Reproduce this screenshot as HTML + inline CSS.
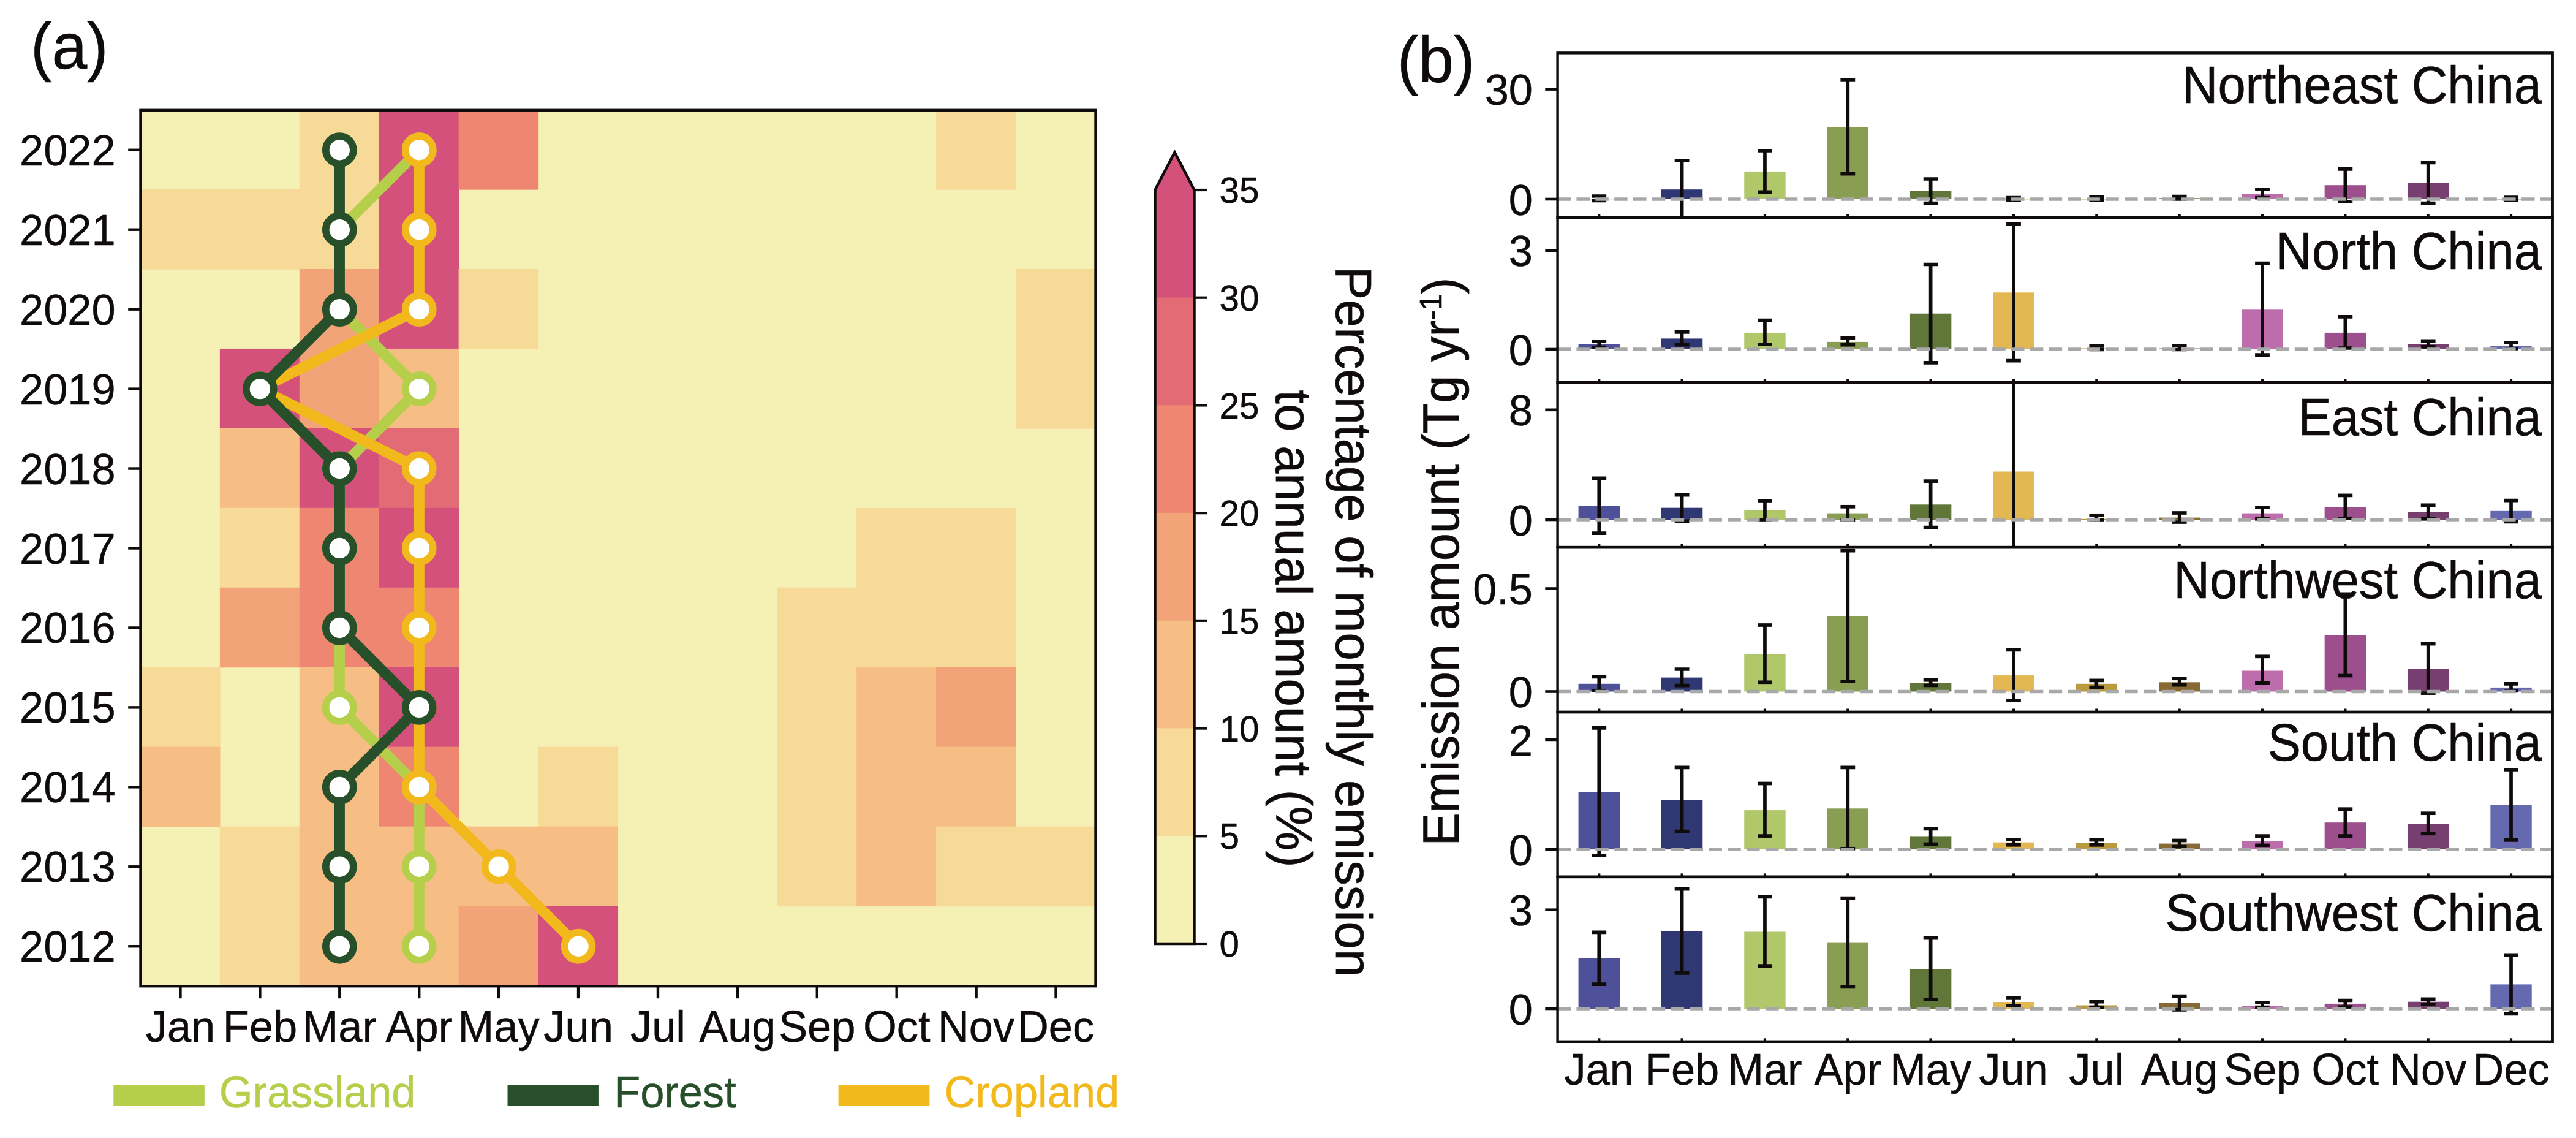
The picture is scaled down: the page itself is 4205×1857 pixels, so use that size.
<!DOCTYPE html>
<html><head><meta charset="utf-8"><style>
html,body{margin:0;padding:0;background:#fff;width:4205px;height:1857px;overflow:hidden}
svg{display:block}
text{font-family:"Liberation Sans", sans-serif}
</style></head><body>
<svg width="4205" height="1857" viewBox="0 0 4205 1857">
<defs><clipPath id="cp0"><rect x="2542.6" y="86.40" width="1624.10" height="268.90"/></clipPath><clipPath id="cp1"><rect x="2542.6" y="355.30" width="1624.10" height="268.90"/></clipPath><clipPath id="cp2"><rect x="2542.6" y="624.20" width="1624.10" height="268.90"/></clipPath><clipPath id="cp3"><rect x="2542.6" y="893.10" width="1624.10" height="268.90"/></clipPath><clipPath id="cp4"><rect x="2542.6" y="1162.00" width="1624.10" height="268.90"/></clipPath><clipPath id="cp5"><rect x="2542.6" y="1430.90" width="1624.10" height="268.90"/></clipPath></defs>
<rect width="4205" height="1857" fill="#fff"/>
<rect x="229.5" y="179.8" width="1559.00" height="1429.40" fill="#F5F0B4"/>
<rect x="488.78" y="179.10" width="130.52" height="130.55" fill="#F7D998"/>
<rect x="618.70" y="179.10" width="130.52" height="130.55" fill="#D4517C"/>
<rect x="748.62" y="179.10" width="130.52" height="130.55" fill="#EE8672"/>
<rect x="1528.12" y="179.10" width="130.52" height="130.55" fill="#F7D998"/>
<rect x="228.95" y="309.05" width="130.52" height="130.55" fill="#F7D998"/>
<rect x="358.87" y="309.05" width="130.52" height="130.55" fill="#F7D998"/>
<rect x="488.78" y="309.05" width="130.52" height="130.55" fill="#F7D998"/>
<rect x="618.70" y="309.05" width="130.52" height="130.55" fill="#D4517C"/>
<rect x="488.78" y="438.99" width="130.52" height="130.55" fill="#F2A377"/>
<rect x="618.70" y="438.99" width="130.52" height="130.55" fill="#D4517C"/>
<rect x="748.62" y="438.99" width="130.52" height="130.55" fill="#F7D998"/>
<rect x="1658.03" y="438.99" width="130.52" height="130.55" fill="#F7D998"/>
<rect x="358.87" y="568.94" width="130.52" height="130.55" fill="#D4517C"/>
<rect x="488.78" y="568.94" width="130.52" height="130.55" fill="#F2A377"/>
<rect x="618.70" y="568.94" width="130.52" height="130.55" fill="#F6BE85"/>
<rect x="1658.03" y="568.94" width="130.52" height="130.55" fill="#F7D998"/>
<rect x="358.87" y="698.88" width="130.52" height="130.55" fill="#F6BE85"/>
<rect x="488.78" y="698.88" width="130.52" height="130.55" fill="#D4517C"/>
<rect x="618.70" y="698.88" width="130.52" height="130.55" fill="#E26B76"/>
<rect x="358.87" y="828.83" width="130.52" height="130.55" fill="#F7D998"/>
<rect x="488.78" y="828.83" width="130.52" height="130.55" fill="#EE8672"/>
<rect x="618.70" y="828.83" width="130.52" height="130.55" fill="#D4517C"/>
<rect x="1398.20" y="828.83" width="130.52" height="130.55" fill="#F7D998"/>
<rect x="1528.12" y="828.83" width="130.52" height="130.55" fill="#F7D998"/>
<rect x="358.87" y="958.77" width="130.52" height="130.55" fill="#F2A377"/>
<rect x="488.78" y="958.77" width="130.52" height="130.55" fill="#EE8672"/>
<rect x="618.70" y="958.77" width="130.52" height="130.55" fill="#EE8672"/>
<rect x="1268.28" y="958.77" width="130.52" height="130.55" fill="#F7D998"/>
<rect x="1398.20" y="958.77" width="130.52" height="130.55" fill="#F7D998"/>
<rect x="1528.12" y="958.77" width="130.52" height="130.55" fill="#F7D998"/>
<rect x="228.95" y="1088.72" width="130.52" height="130.55" fill="#F7D998"/>
<rect x="488.78" y="1088.72" width="130.52" height="130.55" fill="#F6BE85"/>
<rect x="618.70" y="1088.72" width="130.52" height="130.55" fill="#D4517C"/>
<rect x="1268.28" y="1088.72" width="130.52" height="130.55" fill="#F7D998"/>
<rect x="1398.20" y="1088.72" width="130.52" height="130.55" fill="#F6BE85"/>
<rect x="1528.12" y="1088.72" width="130.52" height="130.55" fill="#F2A377"/>
<rect x="228.95" y="1218.66" width="130.52" height="130.55" fill="#F6BE85"/>
<rect x="488.78" y="1218.66" width="130.52" height="130.55" fill="#F6BE85"/>
<rect x="618.70" y="1218.66" width="130.52" height="130.55" fill="#EE8672"/>
<rect x="878.53" y="1218.66" width="130.52" height="130.55" fill="#F7D998"/>
<rect x="1268.28" y="1218.66" width="130.52" height="130.55" fill="#F7D998"/>
<rect x="1398.20" y="1218.66" width="130.52" height="130.55" fill="#F6BE85"/>
<rect x="1528.12" y="1218.66" width="130.52" height="130.55" fill="#F6BE85"/>
<rect x="358.87" y="1348.61" width="130.52" height="130.55" fill="#F7D998"/>
<rect x="488.78" y="1348.61" width="130.52" height="130.55" fill="#F6BE85"/>
<rect x="618.70" y="1348.61" width="130.52" height="130.55" fill="#F6BE85"/>
<rect x="748.62" y="1348.61" width="130.52" height="130.55" fill="#F6BE85"/>
<rect x="878.53" y="1348.61" width="130.52" height="130.55" fill="#F6BE85"/>
<rect x="1268.28" y="1348.61" width="130.52" height="130.55" fill="#F7D998"/>
<rect x="1398.20" y="1348.61" width="130.52" height="130.55" fill="#F6BE85"/>
<rect x="1528.12" y="1348.61" width="130.52" height="130.55" fill="#F7D998"/>
<rect x="1658.03" y="1348.61" width="130.52" height="130.55" fill="#F7D998"/>
<rect x="358.87" y="1478.55" width="130.52" height="130.55" fill="#F7D998"/>
<rect x="488.78" y="1478.55" width="130.52" height="130.55" fill="#F6BE85"/>
<rect x="618.70" y="1478.55" width="130.52" height="130.55" fill="#F6BE85"/>
<rect x="748.62" y="1478.55" width="130.52" height="130.55" fill="#F2A377"/>
<rect x="878.53" y="1478.55" width="130.52" height="130.55" fill="#D4517C"/>
<polyline points="684.21,244.77 554.29,374.72 554.29,504.66 684.21,634.61 554.29,764.55 554.29,894.50 554.29,1024.45 554.29,1154.39 684.21,1284.34 684.21,1414.28 684.21,1544.23" fill="none" stroke="#B5CF4A" stroke-width="17.2" stroke-linejoin="round" stroke-linecap="butt"/>
<circle cx="684.21" cy="244.77" r="22.55" fill="#fff" stroke="#B5CF4A" stroke-width="11.7"/>
<circle cx="554.29" cy="374.72" r="22.55" fill="#fff" stroke="#B5CF4A" stroke-width="11.7"/>
<circle cx="554.29" cy="504.66" r="22.55" fill="#fff" stroke="#B5CF4A" stroke-width="11.7"/>
<circle cx="684.21" cy="634.61" r="22.55" fill="#fff" stroke="#B5CF4A" stroke-width="11.7"/>
<circle cx="554.29" cy="764.55" r="22.55" fill="#fff" stroke="#B5CF4A" stroke-width="11.7"/>
<circle cx="554.29" cy="894.50" r="22.55" fill="#fff" stroke="#B5CF4A" stroke-width="11.7"/>
<circle cx="554.29" cy="1024.45" r="22.55" fill="#fff" stroke="#B5CF4A" stroke-width="11.7"/>
<circle cx="554.29" cy="1154.39" r="22.55" fill="#fff" stroke="#B5CF4A" stroke-width="11.7"/>
<circle cx="684.21" cy="1284.34" r="22.55" fill="#fff" stroke="#B5CF4A" stroke-width="11.7"/>
<circle cx="684.21" cy="1414.28" r="22.55" fill="#fff" stroke="#B5CF4A" stroke-width="11.7"/>
<circle cx="684.21" cy="1544.23" r="22.55" fill="#fff" stroke="#B5CF4A" stroke-width="11.7"/>
<polyline points="684.21,244.77 684.21,374.72 684.21,504.66 424.38,634.61 684.21,764.55 684.21,894.50 684.21,1024.45 684.21,1154.39 684.21,1284.34 814.12,1414.28 944.04,1544.23" fill="none" stroke="#F2B91C" stroke-width="17.2" stroke-linejoin="round" stroke-linecap="butt"/>
<circle cx="684.21" cy="244.77" r="22.55" fill="#fff" stroke="#F2B91C" stroke-width="11.7"/>
<circle cx="684.21" cy="374.72" r="22.55" fill="#fff" stroke="#F2B91C" stroke-width="11.7"/>
<circle cx="684.21" cy="504.66" r="22.55" fill="#fff" stroke="#F2B91C" stroke-width="11.7"/>
<circle cx="424.38" cy="634.61" r="22.55" fill="#fff" stroke="#F2B91C" stroke-width="11.7"/>
<circle cx="684.21" cy="764.55" r="22.55" fill="#fff" stroke="#F2B91C" stroke-width="11.7"/>
<circle cx="684.21" cy="894.50" r="22.55" fill="#fff" stroke="#F2B91C" stroke-width="11.7"/>
<circle cx="684.21" cy="1024.45" r="22.55" fill="#fff" stroke="#F2B91C" stroke-width="11.7"/>
<circle cx="684.21" cy="1154.39" r="22.55" fill="#fff" stroke="#F2B91C" stroke-width="11.7"/>
<circle cx="684.21" cy="1284.34" r="22.55" fill="#fff" stroke="#F2B91C" stroke-width="11.7"/>
<circle cx="814.12" cy="1414.28" r="22.55" fill="#fff" stroke="#F2B91C" stroke-width="11.7"/>
<circle cx="944.04" cy="1544.23" r="22.55" fill="#fff" stroke="#F2B91C" stroke-width="11.7"/>
<polyline points="554.29,244.77 554.29,374.72 554.29,504.66 424.38,634.61 554.29,764.55 554.29,894.50 554.29,1024.45 684.21,1154.39 554.29,1284.34 554.29,1414.28 554.29,1544.23" fill="none" stroke="#27502A" stroke-width="17.2" stroke-linejoin="round" stroke-linecap="butt"/>
<circle cx="554.29" cy="244.77" r="22.55" fill="#fff" stroke="#27502A" stroke-width="11.7"/>
<circle cx="554.29" cy="374.72" r="22.55" fill="#fff" stroke="#27502A" stroke-width="11.7"/>
<circle cx="554.29" cy="504.66" r="22.55" fill="#fff" stroke="#27502A" stroke-width="11.7"/>
<circle cx="424.38" cy="634.61" r="22.55" fill="#fff" stroke="#27502A" stroke-width="11.7"/>
<circle cx="554.29" cy="764.55" r="22.55" fill="#fff" stroke="#27502A" stroke-width="11.7"/>
<circle cx="554.29" cy="894.50" r="22.55" fill="#fff" stroke="#27502A" stroke-width="11.7"/>
<circle cx="554.29" cy="1024.45" r="22.55" fill="#fff" stroke="#27502A" stroke-width="11.7"/>
<circle cx="684.21" cy="1154.39" r="22.55" fill="#fff" stroke="#27502A" stroke-width="11.7"/>
<circle cx="554.29" cy="1284.34" r="22.55" fill="#fff" stroke="#27502A" stroke-width="11.7"/>
<circle cx="554.29" cy="1414.28" r="22.55" fill="#fff" stroke="#27502A" stroke-width="11.7"/>
<circle cx="554.29" cy="1544.23" r="22.55" fill="#fff" stroke="#27502A" stroke-width="11.7"/>
<rect x="229.5" y="179.8" width="1559.00" height="1429.40" fill="none" stroke="#0e0b0a" stroke-width="4.4"/>
<line x1="209.20" y1="244.77" x2="229.5" y2="244.77" stroke="#0e0b0a" stroke-width="4.4"/>
<text transform="translate(188.60,269.77)" font-size="70.4" text-anchor="end" fill="#0e0b0a" stroke="#0e0b0a" stroke-width="0.5">2022</text>
<line x1="209.20" y1="374.72" x2="229.5" y2="374.72" stroke="#0e0b0a" stroke-width="4.4"/>
<text transform="translate(188.60,399.72)" font-size="70.4" text-anchor="end" fill="#0e0b0a" stroke="#0e0b0a" stroke-width="0.5">2021</text>
<line x1="209.20" y1="504.66" x2="229.5" y2="504.66" stroke="#0e0b0a" stroke-width="4.4"/>
<text transform="translate(188.60,529.66)" font-size="70.4" text-anchor="end" fill="#0e0b0a" stroke="#0e0b0a" stroke-width="0.5">2020</text>
<line x1="209.20" y1="634.61" x2="229.5" y2="634.61" stroke="#0e0b0a" stroke-width="4.4"/>
<text transform="translate(188.60,659.61)" font-size="70.4" text-anchor="end" fill="#0e0b0a" stroke="#0e0b0a" stroke-width="0.5">2019</text>
<line x1="209.20" y1="764.55" x2="229.5" y2="764.55" stroke="#0e0b0a" stroke-width="4.4"/>
<text transform="translate(188.60,789.55)" font-size="70.4" text-anchor="end" fill="#0e0b0a" stroke="#0e0b0a" stroke-width="0.5">2018</text>
<line x1="209.20" y1="894.50" x2="229.5" y2="894.50" stroke="#0e0b0a" stroke-width="4.4"/>
<text transform="translate(188.60,919.50)" font-size="70.4" text-anchor="end" fill="#0e0b0a" stroke="#0e0b0a" stroke-width="0.5">2017</text>
<line x1="209.20" y1="1024.45" x2="229.5" y2="1024.45" stroke="#0e0b0a" stroke-width="4.4"/>
<text transform="translate(188.60,1049.45)" font-size="70.4" text-anchor="end" fill="#0e0b0a" stroke="#0e0b0a" stroke-width="0.5">2016</text>
<line x1="209.20" y1="1154.39" x2="229.5" y2="1154.39" stroke="#0e0b0a" stroke-width="4.4"/>
<text transform="translate(188.60,1179.39)" font-size="70.4" text-anchor="end" fill="#0e0b0a" stroke="#0e0b0a" stroke-width="0.5">2015</text>
<line x1="209.20" y1="1284.34" x2="229.5" y2="1284.34" stroke="#0e0b0a" stroke-width="4.4"/>
<text transform="translate(188.60,1309.34)" font-size="70.4" text-anchor="end" fill="#0e0b0a" stroke="#0e0b0a" stroke-width="0.5">2014</text>
<line x1="209.20" y1="1414.28" x2="229.5" y2="1414.28" stroke="#0e0b0a" stroke-width="4.4"/>
<text transform="translate(188.60,1439.28)" font-size="70.4" text-anchor="end" fill="#0e0b0a" stroke="#0e0b0a" stroke-width="0.5">2013</text>
<line x1="209.20" y1="1544.23" x2="229.5" y2="1544.23" stroke="#0e0b0a" stroke-width="4.4"/>
<text transform="translate(188.60,1569.23)" font-size="70.4" text-anchor="end" fill="#0e0b0a" stroke="#0e0b0a" stroke-width="0.5">2012</text>
<line x1="294.46" y1="1609.2" x2="294.46" y2="1629.20" stroke="#0e0b0a" stroke-width="4.4"/>
<text transform="translate(294.46,1700.00) scale(1,1.03)" font-size="70.4" text-anchor="middle" fill="#0e0b0a" stroke="#0e0b0a" stroke-width="0.5">Jan</text>
<line x1="424.38" y1="1609.2" x2="424.38" y2="1629.20" stroke="#0e0b0a" stroke-width="4.4"/>
<text transform="translate(424.38,1700.00) scale(1,1.03)" font-size="70.4" text-anchor="middle" fill="#0e0b0a" stroke="#0e0b0a" stroke-width="0.5">Feb</text>
<line x1="554.29" y1="1609.2" x2="554.29" y2="1629.20" stroke="#0e0b0a" stroke-width="4.4"/>
<text transform="translate(554.29,1700.00) scale(1,1.03)" font-size="70.4" text-anchor="middle" fill="#0e0b0a" stroke="#0e0b0a" stroke-width="0.5">Mar</text>
<line x1="684.21" y1="1609.2" x2="684.21" y2="1629.20" stroke="#0e0b0a" stroke-width="4.4"/>
<text transform="translate(684.21,1700.00) scale(1,1.03)" font-size="70.4" text-anchor="middle" fill="#0e0b0a" stroke="#0e0b0a" stroke-width="0.5">Apr</text>
<line x1="814.12" y1="1609.2" x2="814.12" y2="1629.20" stroke="#0e0b0a" stroke-width="4.4"/>
<text transform="translate(814.12,1700.00) scale(1,1.03)" font-size="70.4" text-anchor="middle" fill="#0e0b0a" stroke="#0e0b0a" stroke-width="0.5">May</text>
<line x1="944.04" y1="1609.2" x2="944.04" y2="1629.20" stroke="#0e0b0a" stroke-width="4.4"/>
<text transform="translate(944.04,1700.00) scale(1,1.03)" font-size="70.4" text-anchor="middle" fill="#0e0b0a" stroke="#0e0b0a" stroke-width="0.5">Jun</text>
<line x1="1073.96" y1="1609.2" x2="1073.96" y2="1629.20" stroke="#0e0b0a" stroke-width="4.4"/>
<text transform="translate(1073.96,1700.00) scale(1,1.03)" font-size="70.4" text-anchor="middle" fill="#0e0b0a" stroke="#0e0b0a" stroke-width="0.5">Jul</text>
<line x1="1203.88" y1="1609.2" x2="1203.88" y2="1629.20" stroke="#0e0b0a" stroke-width="4.4"/>
<text transform="translate(1203.88,1700.00) scale(1,1.03)" font-size="70.4" text-anchor="middle" fill="#0e0b0a" stroke="#0e0b0a" stroke-width="0.5">Aug</text>
<line x1="1333.79" y1="1609.2" x2="1333.79" y2="1629.20" stroke="#0e0b0a" stroke-width="4.4"/>
<text transform="translate(1333.79,1700.00) scale(1,1.03)" font-size="70.4" text-anchor="middle" fill="#0e0b0a" stroke="#0e0b0a" stroke-width="0.5">Sep</text>
<line x1="1463.71" y1="1609.2" x2="1463.71" y2="1629.20" stroke="#0e0b0a" stroke-width="4.4"/>
<text transform="translate(1463.71,1700.00) scale(1,1.03)" font-size="70.4" text-anchor="middle" fill="#0e0b0a" stroke="#0e0b0a" stroke-width="0.5">Oct</text>
<line x1="1593.62" y1="1609.2" x2="1593.62" y2="1629.20" stroke="#0e0b0a" stroke-width="4.4"/>
<text transform="translate(1593.62,1700.00) scale(1,1.03)" font-size="70.4" text-anchor="middle" fill="#0e0b0a" stroke="#0e0b0a" stroke-width="0.5">Nov</text>
<line x1="1723.54" y1="1609.2" x2="1723.54" y2="1629.20" stroke="#0e0b0a" stroke-width="4.4"/>
<text transform="translate(1723.54,1700.00) scale(1,1.03)" font-size="70.4" text-anchor="middle" fill="#0e0b0a" stroke="#0e0b0a" stroke-width="0.5">Dec</text>
<text transform="translate(49.90,112.40) scale(1,1.02)" font-size="103.7" text-anchor="start" fill="#0e0b0a" stroke="#0e0b0a" stroke-width="0.65">(a)</text>
<rect x="1885.5" y="1363.49" width="64.0" height="176.31" fill="#F5F0B4"/>
<rect x="1885.5" y="1187.77" width="64.0" height="176.31" fill="#F7D998"/>
<rect x="1885.5" y="1012.06" width="64.0" height="176.31" fill="#F6BE85"/>
<rect x="1885.5" y="836.34" width="64.0" height="176.31" fill="#F2A377"/>
<rect x="1885.5" y="660.63" width="64.0" height="176.31" fill="#EE8672"/>
<rect x="1885.5" y="484.91" width="64.0" height="176.31" fill="#E26B76"/>
<rect x="1885.5" y="309.20" width="64.0" height="176.31" fill="#D4517C"/>
<polygon points="1885.5,310.5 1917.5,248.5 1949.5,310.5" fill="#D4517C"/>
<path d="M1885.5,1540.0 L1885.5,310.0 L1917.5,248.5 L1949.5,310.0 L1949.5,1540.0 Z" fill="none" stroke="#0e0b0a" stroke-width="4.5" stroke-linejoin="miter"/>
<line x1="1949.5" y1="1540.00" x2="1970.70" y2="1540.00" stroke="#0e0b0a" stroke-width="4.2"/>
<text transform="translate(1990.60,1561.10)" font-size="58.4" text-anchor="start" fill="#0e0b0a" stroke="#0e0b0a" stroke-width="0.5">0</text>
<line x1="1949.5" y1="1364.29" x2="1970.70" y2="1364.29" stroke="#0e0b0a" stroke-width="4.2"/>
<text transform="translate(1990.60,1385.39)" font-size="58.4" text-anchor="start" fill="#0e0b0a" stroke="#0e0b0a" stroke-width="0.5">5</text>
<line x1="1949.5" y1="1188.57" x2="1970.70" y2="1188.57" stroke="#0e0b0a" stroke-width="4.2"/>
<text transform="translate(1990.60,1209.67)" font-size="58.4" text-anchor="start" fill="#0e0b0a" stroke="#0e0b0a" stroke-width="0.5">10</text>
<line x1="1949.5" y1="1012.86" x2="1970.70" y2="1012.86" stroke="#0e0b0a" stroke-width="4.2"/>
<text transform="translate(1990.60,1033.96)" font-size="58.4" text-anchor="start" fill="#0e0b0a" stroke="#0e0b0a" stroke-width="0.5">15</text>
<line x1="1949.5" y1="837.14" x2="1970.70" y2="837.14" stroke="#0e0b0a" stroke-width="4.2"/>
<text transform="translate(1990.60,858.24)" font-size="58.4" text-anchor="start" fill="#0e0b0a" stroke="#0e0b0a" stroke-width="0.5">20</text>
<line x1="1949.5" y1="661.43" x2="1970.70" y2="661.43" stroke="#0e0b0a" stroke-width="4.2"/>
<text transform="translate(1990.60,682.53)" font-size="58.4" text-anchor="start" fill="#0e0b0a" stroke="#0e0b0a" stroke-width="0.5">25</text>
<line x1="1949.5" y1="485.71" x2="1970.70" y2="485.71" stroke="#0e0b0a" stroke-width="4.2"/>
<text transform="translate(1990.60,506.81)" font-size="58.4" text-anchor="start" fill="#0e0b0a" stroke="#0e0b0a" stroke-width="0.5">30</text>
<line x1="1949.5" y1="310.00" x2="1970.70" y2="310.00" stroke="#0e0b0a" stroke-width="4.2"/>
<text transform="translate(1990.60,331.10)" font-size="58.4" text-anchor="start" fill="#0e0b0a" stroke="#0e0b0a" stroke-width="0.5">35</text>
<text transform="translate(2181.00,434.70) rotate(90) scale(1,1.03)" font-size="81.5" text-anchor="start" fill="#0e0b0a" stroke="#0e0b0a" stroke-width="0.65">Percentage of monthly emission</text>
<text transform="translate(2083.00,636.30) rotate(90) scale(1,1.03)" font-size="81.5" text-anchor="start" fill="#0e0b0a" stroke="#0e0b0a" stroke-width="0.65">to annual amount (%)</text>
<rect x="185.3" y="1771.0" width="148.5" height="33.4" fill="#B5CF4A"/>
<text transform="translate(357.70,1806.80) scale(1,1.03)" font-size="70.4" text-anchor="start" fill="#B5CF4A" stroke="#B5CF4A" stroke-width="0.5">Grassland</text>
<rect x="828.5" y="1771.0" width="148.4" height="33.4" fill="#27502A"/>
<text transform="translate(1002.20,1806.80) scale(1,1.03)" font-size="70.4" text-anchor="start" fill="#27502A" stroke="#27502A" stroke-width="0.5">Forest</text>
<rect x="1368.6" y="1771.0" width="148.8" height="33.4" fill="#F2B91C"/>
<text transform="translate(1541.50,1806.80) scale(1,1.03)" font-size="70.4" text-anchor="start" fill="#F2B91C" stroke="#F2B91C" stroke-width="0.5">Cropland</text>
<g clip-path="url(#cp0)">
<rect x="2576.57" y="324.30" width="67.4" height="0.80" fill="#4E5099"/>
<rect x="2711.91" y="309.20" width="67.4" height="15.80" fill="#303873"/>
<rect x="2847.25" y="279.90" width="67.4" height="45.10" fill="#B0C86A"/>
<rect x="2982.60" y="207.30" width="67.4" height="117.70" fill="#899E52"/>
<rect x="3117.94" y="312.00" width="67.4" height="13.00" fill="#607739"/>
<rect x="3253.28" y="324.60" width="67.4" height="0.80" fill="#E3B752"/>
<rect x="3388.62" y="324.60" width="67.4" height="0.80" fill="#B99A3D"/>
<rect x="3523.96" y="323.30" width="67.4" height="1.70" fill="#876A33"/>
<rect x="3659.30" y="316.80" width="67.4" height="8.20" fill="#BE6DAC"/>
<rect x="3794.65" y="302.20" width="67.4" height="22.80" fill="#9C4E8D"/>
<rect x="3929.99" y="299.00" width="67.4" height="26.00" fill="#763F70"/>
<rect x="4065.33" y="324.60" width="67.4" height="0.80" fill="#6469B0"/>
<line x1="2610.27" y1="320.00" x2="2610.27" y2="327.50" stroke="#0e0b0a" stroke-width="5.7"/>
<line x1="2598.37" y1="320.00" x2="2622.17" y2="320.00" stroke="#0e0b0a" stroke-width="5.7"/>
<line x1="2598.37" y1="327.50" x2="2622.17" y2="327.50" stroke="#0e0b0a" stroke-width="5.7"/>
<line x1="2745.61" y1="262.00" x2="2745.61" y2="360.00" stroke="#0e0b0a" stroke-width="5.7"/>
<line x1="2733.71" y1="262.00" x2="2757.51" y2="262.00" stroke="#0e0b0a" stroke-width="5.7"/>
<line x1="2733.71" y1="360.00" x2="2757.51" y2="360.00" stroke="#0e0b0a" stroke-width="5.7"/>
<line x1="2880.95" y1="245.80" x2="2880.95" y2="313.30" stroke="#0e0b0a" stroke-width="5.7"/>
<line x1="2869.05" y1="245.80" x2="2892.85" y2="245.80" stroke="#0e0b0a" stroke-width="5.7"/>
<line x1="2869.05" y1="313.30" x2="2892.85" y2="313.30" stroke="#0e0b0a" stroke-width="5.7"/>
<line x1="3016.30" y1="130.00" x2="3016.30" y2="283.70" stroke="#0e0b0a" stroke-width="5.7"/>
<line x1="3004.40" y1="130.00" x2="3028.20" y2="130.00" stroke="#0e0b0a" stroke-width="5.7"/>
<line x1="3004.40" y1="283.70" x2="3028.20" y2="283.70" stroke="#0e0b0a" stroke-width="5.7"/>
<line x1="3151.64" y1="292.00" x2="3151.64" y2="331.50" stroke="#0e0b0a" stroke-width="5.7"/>
<line x1="3139.74" y1="292.00" x2="3163.54" y2="292.00" stroke="#0e0b0a" stroke-width="5.7"/>
<line x1="3139.74" y1="331.50" x2="3163.54" y2="331.50" stroke="#0e0b0a" stroke-width="5.7"/>
<line x1="3286.98" y1="322.50" x2="3286.98" y2="326.20" stroke="#0e0b0a" stroke-width="5.7"/>
<line x1="3275.08" y1="322.50" x2="3298.88" y2="322.50" stroke="#0e0b0a" stroke-width="5.7"/>
<line x1="3275.08" y1="326.20" x2="3298.88" y2="326.20" stroke="#0e0b0a" stroke-width="5.7"/>
<line x1="3422.32" y1="321.80" x2="3422.32" y2="326.50" stroke="#0e0b0a" stroke-width="5.7"/>
<line x1="3410.42" y1="321.80" x2="3434.22" y2="321.80" stroke="#0e0b0a" stroke-width="5.7"/>
<line x1="3410.42" y1="326.50" x2="3434.22" y2="326.50" stroke="#0e0b0a" stroke-width="5.7"/>
<line x1="3557.66" y1="320.50" x2="3557.66" y2="325.00" stroke="#0e0b0a" stroke-width="5.7"/>
<line x1="3545.76" y1="320.50" x2="3569.56" y2="320.50" stroke="#0e0b0a" stroke-width="5.7"/>
<line x1="3545.76" y1="325.00" x2="3569.56" y2="325.00" stroke="#0e0b0a" stroke-width="5.7"/>
<line x1="3693.00" y1="309.20" x2="3693.00" y2="322.60" stroke="#0e0b0a" stroke-width="5.7"/>
<line x1="3681.10" y1="309.20" x2="3704.90" y2="309.20" stroke="#0e0b0a" stroke-width="5.7"/>
<line x1="3681.10" y1="322.60" x2="3704.90" y2="322.60" stroke="#0e0b0a" stroke-width="5.7"/>
<line x1="3828.35" y1="275.80" x2="3828.35" y2="328.90" stroke="#0e0b0a" stroke-width="5.7"/>
<line x1="3816.45" y1="275.80" x2="3840.25" y2="275.80" stroke="#0e0b0a" stroke-width="5.7"/>
<line x1="3816.45" y1="328.90" x2="3840.25" y2="328.90" stroke="#0e0b0a" stroke-width="5.7"/>
<line x1="3963.69" y1="265.30" x2="3963.69" y2="331.50" stroke="#0e0b0a" stroke-width="5.7"/>
<line x1="3951.79" y1="265.30" x2="3975.59" y2="265.30" stroke="#0e0b0a" stroke-width="5.7"/>
<line x1="3951.79" y1="331.50" x2="3975.59" y2="331.50" stroke="#0e0b0a" stroke-width="5.7"/>
<line x1="4099.03" y1="322.00" x2="4099.03" y2="326.50" stroke="#0e0b0a" stroke-width="5.7"/>
<line x1="4087.13" y1="322.00" x2="4110.93" y2="322.00" stroke="#0e0b0a" stroke-width="5.7"/>
<line x1="4087.13" y1="326.50" x2="4110.93" y2="326.50" stroke="#0e0b0a" stroke-width="5.7"/>
<line x1="2542.6" y1="325.0" x2="4166.7" y2="325.0" stroke="#A8A8A8" stroke-width="5.5" stroke-dasharray="21.5 9.35"/>
</g>
<line x1="2610.27" y1="355.30" x2="2610.27" y2="349.80" stroke="#0e0b0a" stroke-width="4.2"/>
<line x1="2745.61" y1="355.30" x2="2745.61" y2="349.80" stroke="#0e0b0a" stroke-width="4.2"/>
<line x1="2880.95" y1="355.30" x2="2880.95" y2="349.80" stroke="#0e0b0a" stroke-width="4.2"/>
<line x1="3016.30" y1="355.30" x2="3016.30" y2="349.80" stroke="#0e0b0a" stroke-width="4.2"/>
<line x1="3151.64" y1="355.30" x2="3151.64" y2="349.80" stroke="#0e0b0a" stroke-width="4.2"/>
<line x1="3286.98" y1="355.30" x2="3286.98" y2="349.80" stroke="#0e0b0a" stroke-width="4.2"/>
<line x1="3422.32" y1="355.30" x2="3422.32" y2="349.80" stroke="#0e0b0a" stroke-width="4.2"/>
<line x1="3557.66" y1="355.30" x2="3557.66" y2="349.80" stroke="#0e0b0a" stroke-width="4.2"/>
<line x1="3693.00" y1="355.30" x2="3693.00" y2="349.80" stroke="#0e0b0a" stroke-width="4.2"/>
<line x1="3828.35" y1="355.30" x2="3828.35" y2="349.80" stroke="#0e0b0a" stroke-width="4.2"/>
<line x1="3963.69" y1="355.30" x2="3963.69" y2="349.80" stroke="#0e0b0a" stroke-width="4.2"/>
<line x1="4099.03" y1="355.30" x2="4099.03" y2="349.80" stroke="#0e0b0a" stroke-width="4.2"/>
<rect x="2542.6" y="86.40" width="1624.10" height="268.90" fill="none" stroke="#0e0b0a" stroke-width="4.4"/>
<line x1="2522.30" y1="145.60" x2="2542.6" y2="145.60" stroke="#0e0b0a" stroke-width="4.6"/>
<text transform="translate(2502.00,171.20)" font-size="70.4" text-anchor="end" fill="#0e0b0a" stroke="#0e0b0a" stroke-width="0.5">30</text>
<line x1="2522.30" y1="325.00" x2="2542.6" y2="325.00" stroke="#0e0b0a" stroke-width="4.6"/>
<text transform="translate(2502.00,350.60)" font-size="70.4" text-anchor="end" fill="#0e0b0a" stroke="#0e0b0a" stroke-width="0.5">0</text>
<text transform="translate(4149.00,167.90) scale(1,1.045)" font-size="81.3" text-anchor="end" fill="#0e0b0a" stroke="#0e0b0a" stroke-width="0.65">Northeast China</text>
<g clip-path="url(#cp1)">
<rect x="2576.57" y="561.70" width="67.4" height="8.30" fill="#4E5099"/>
<rect x="2711.91" y="552.40" width="67.4" height="17.60" fill="#303873"/>
<rect x="2847.25" y="542.90" width="67.4" height="27.10" fill="#B0C86A"/>
<rect x="2982.60" y="557.90" width="67.4" height="12.10" fill="#899E52"/>
<rect x="3117.94" y="511.70" width="67.4" height="58.30" fill="#607739"/>
<rect x="3253.28" y="477.30" width="67.4" height="92.70" fill="#E3B752"/>
<rect x="3388.62" y="568.50" width="67.4" height="1.50" fill="#B99A3D"/>
<rect x="3523.96" y="568.50" width="67.4" height="1.50" fill="#876A33"/>
<rect x="3659.30" y="505.30" width="67.4" height="64.70" fill="#BE6DAC"/>
<rect x="3794.65" y="542.90" width="67.4" height="27.10" fill="#9C4E8D"/>
<rect x="3929.99" y="561.00" width="67.4" height="9.00" fill="#763F70"/>
<rect x="4065.33" y="564.50" width="67.4" height="5.50" fill="#6469B0"/>
<line x1="2610.27" y1="556.90" x2="2610.27" y2="566.50" stroke="#0e0b0a" stroke-width="5.7"/>
<line x1="2598.37" y1="556.90" x2="2622.17" y2="556.90" stroke="#0e0b0a" stroke-width="5.7"/>
<line x1="2598.37" y1="566.50" x2="2622.17" y2="566.50" stroke="#0e0b0a" stroke-width="5.7"/>
<line x1="2745.61" y1="541.90" x2="2745.61" y2="562.60" stroke="#0e0b0a" stroke-width="5.7"/>
<line x1="2733.71" y1="541.90" x2="2757.51" y2="541.90" stroke="#0e0b0a" stroke-width="5.7"/>
<line x1="2733.71" y1="562.60" x2="2757.51" y2="562.60" stroke="#0e0b0a" stroke-width="5.7"/>
<line x1="2880.95" y1="522.50" x2="2880.95" y2="562.00" stroke="#0e0b0a" stroke-width="5.7"/>
<line x1="2869.05" y1="522.50" x2="2892.85" y2="522.50" stroke="#0e0b0a" stroke-width="5.7"/>
<line x1="2869.05" y1="562.00" x2="2892.85" y2="562.00" stroke="#0e0b0a" stroke-width="5.7"/>
<line x1="3016.30" y1="551.50" x2="3016.30" y2="562.60" stroke="#0e0b0a" stroke-width="5.7"/>
<line x1="3004.40" y1="551.50" x2="3028.20" y2="551.50" stroke="#0e0b0a" stroke-width="5.7"/>
<line x1="3004.40" y1="562.60" x2="3028.20" y2="562.60" stroke="#0e0b0a" stroke-width="5.7"/>
<line x1="3151.64" y1="431.50" x2="3151.64" y2="591.90" stroke="#0e0b0a" stroke-width="5.7"/>
<line x1="3139.74" y1="431.50" x2="3163.54" y2="431.50" stroke="#0e0b0a" stroke-width="5.7"/>
<line x1="3139.74" y1="591.90" x2="3163.54" y2="591.90" stroke="#0e0b0a" stroke-width="5.7"/>
<line x1="3286.98" y1="365.90" x2="3286.98" y2="588.70" stroke="#0e0b0a" stroke-width="5.7"/>
<line x1="3275.08" y1="365.90" x2="3298.88" y2="365.90" stroke="#0e0b0a" stroke-width="5.7"/>
<line x1="3275.08" y1="588.70" x2="3298.88" y2="588.70" stroke="#0e0b0a" stroke-width="5.7"/>
<line x1="3422.32" y1="564.90" x2="3422.32" y2="570.50" stroke="#0e0b0a" stroke-width="5.7"/>
<line x1="3410.42" y1="564.90" x2="3434.22" y2="564.90" stroke="#0e0b0a" stroke-width="5.7"/>
<line x1="3410.42" y1="570.50" x2="3434.22" y2="570.50" stroke="#0e0b0a" stroke-width="5.7"/>
<line x1="3557.66" y1="563.90" x2="3557.66" y2="570.50" stroke="#0e0b0a" stroke-width="5.7"/>
<line x1="3545.76" y1="563.90" x2="3569.56" y2="563.90" stroke="#0e0b0a" stroke-width="5.7"/>
<line x1="3545.76" y1="570.50" x2="3569.56" y2="570.50" stroke="#0e0b0a" stroke-width="5.7"/>
<line x1="3693.00" y1="429.60" x2="3693.00" y2="579.20" stroke="#0e0b0a" stroke-width="5.7"/>
<line x1="3681.10" y1="429.60" x2="3704.90" y2="429.60" stroke="#0e0b0a" stroke-width="5.7"/>
<line x1="3681.10" y1="579.20" x2="3704.90" y2="579.20" stroke="#0e0b0a" stroke-width="5.7"/>
<line x1="3828.35" y1="516.80" x2="3828.35" y2="568.00" stroke="#0e0b0a" stroke-width="5.7"/>
<line x1="3816.45" y1="516.80" x2="3840.25" y2="516.80" stroke="#0e0b0a" stroke-width="5.7"/>
<line x1="3816.45" y1="568.00" x2="3840.25" y2="568.00" stroke="#0e0b0a" stroke-width="5.7"/>
<line x1="3963.69" y1="556.30" x2="3963.69" y2="565.80" stroke="#0e0b0a" stroke-width="5.7"/>
<line x1="3951.79" y1="556.30" x2="3975.59" y2="556.30" stroke="#0e0b0a" stroke-width="5.7"/>
<line x1="3951.79" y1="565.80" x2="3975.59" y2="565.80" stroke="#0e0b0a" stroke-width="5.7"/>
<line x1="4099.03" y1="559.10" x2="4099.03" y2="569.00" stroke="#0e0b0a" stroke-width="5.7"/>
<line x1="4087.13" y1="559.10" x2="4110.93" y2="559.10" stroke="#0e0b0a" stroke-width="5.7"/>
<line x1="4087.13" y1="569.00" x2="4110.93" y2="569.00" stroke="#0e0b0a" stroke-width="5.7"/>
<line x1="2542.6" y1="570.0" x2="4166.7" y2="570.0" stroke="#A8A8A8" stroke-width="5.5" stroke-dasharray="21.5 9.35"/>
</g>
<line x1="2610.27" y1="624.20" x2="2610.27" y2="618.70" stroke="#0e0b0a" stroke-width="4.2"/>
<line x1="2745.61" y1="624.20" x2="2745.61" y2="618.70" stroke="#0e0b0a" stroke-width="4.2"/>
<line x1="2880.95" y1="624.20" x2="2880.95" y2="618.70" stroke="#0e0b0a" stroke-width="4.2"/>
<line x1="3016.30" y1="624.20" x2="3016.30" y2="618.70" stroke="#0e0b0a" stroke-width="4.2"/>
<line x1="3151.64" y1="624.20" x2="3151.64" y2="618.70" stroke="#0e0b0a" stroke-width="4.2"/>
<line x1="3286.98" y1="624.20" x2="3286.98" y2="618.70" stroke="#0e0b0a" stroke-width="4.2"/>
<line x1="3422.32" y1="624.20" x2="3422.32" y2="618.70" stroke="#0e0b0a" stroke-width="4.2"/>
<line x1="3557.66" y1="624.20" x2="3557.66" y2="618.70" stroke="#0e0b0a" stroke-width="4.2"/>
<line x1="3693.00" y1="624.20" x2="3693.00" y2="618.70" stroke="#0e0b0a" stroke-width="4.2"/>
<line x1="3828.35" y1="624.20" x2="3828.35" y2="618.70" stroke="#0e0b0a" stroke-width="4.2"/>
<line x1="3963.69" y1="624.20" x2="3963.69" y2="618.70" stroke="#0e0b0a" stroke-width="4.2"/>
<line x1="4099.03" y1="624.20" x2="4099.03" y2="618.70" stroke="#0e0b0a" stroke-width="4.2"/>
<rect x="2542.6" y="355.30" width="1624.10" height="268.90" fill="none" stroke="#0e0b0a" stroke-width="4.4"/>
<line x1="2522.30" y1="408.70" x2="2542.6" y2="408.70" stroke="#0e0b0a" stroke-width="4.6"/>
<text transform="translate(2502.00,434.30)" font-size="70.4" text-anchor="end" fill="#0e0b0a" stroke="#0e0b0a" stroke-width="0.5">3</text>
<line x1="2522.30" y1="570.00" x2="2542.6" y2="570.00" stroke="#0e0b0a" stroke-width="4.6"/>
<text transform="translate(2502.00,595.60)" font-size="70.4" text-anchor="end" fill="#0e0b0a" stroke="#0e0b0a" stroke-width="0.5">0</text>
<text transform="translate(4149.00,439.10) scale(1,1.045)" font-size="81.3" text-anchor="end" fill="#0e0b0a" stroke="#0e0b0a" stroke-width="0.65">North China</text>
<g clip-path="url(#cp2)">
<rect x="2576.57" y="825.20" width="67.4" height="22.80" fill="#4E5099"/>
<rect x="2711.91" y="828.70" width="67.4" height="19.30" fill="#303873"/>
<rect x="2847.25" y="832.20" width="67.4" height="15.80" fill="#B0C86A"/>
<rect x="2982.60" y="837.60" width="67.4" height="10.40" fill="#899E52"/>
<rect x="3117.94" y="823.30" width="67.4" height="24.70" fill="#607739"/>
<rect x="3253.28" y="769.50" width="67.4" height="78.50" fill="#E3B752"/>
<rect x="3388.62" y="846.80" width="67.4" height="1.20" fill="#B99A3D"/>
<rect x="3523.96" y="844.60" width="67.4" height="3.40" fill="#876A33"/>
<rect x="3659.30" y="837.60" width="67.4" height="10.40" fill="#BE6DAC"/>
<rect x="3794.65" y="827.50" width="67.4" height="20.50" fill="#9C4E8D"/>
<rect x="3929.99" y="836.00" width="67.4" height="12.00" fill="#763F70"/>
<rect x="4065.33" y="833.80" width="67.4" height="14.20" fill="#6469B0"/>
<line x1="2610.27" y1="780.30" x2="2610.27" y2="870.10" stroke="#0e0b0a" stroke-width="5.7"/>
<line x1="2598.37" y1="780.30" x2="2622.17" y2="780.30" stroke="#0e0b0a" stroke-width="5.7"/>
<line x1="2598.37" y1="870.10" x2="2622.17" y2="870.10" stroke="#0e0b0a" stroke-width="5.7"/>
<line x1="2745.61" y1="807.70" x2="2745.61" y2="850.40" stroke="#0e0b0a" stroke-width="5.7"/>
<line x1="2733.71" y1="807.70" x2="2757.51" y2="807.70" stroke="#0e0b0a" stroke-width="5.7"/>
<line x1="2733.71" y1="850.40" x2="2757.51" y2="850.40" stroke="#0e0b0a" stroke-width="5.7"/>
<line x1="2880.95" y1="817.00" x2="2880.95" y2="848.00" stroke="#0e0b0a" stroke-width="5.7"/>
<line x1="2869.05" y1="817.00" x2="2892.85" y2="817.00" stroke="#0e0b0a" stroke-width="5.7"/>
<line x1="2869.05" y1="848.00" x2="2892.85" y2="848.00" stroke="#0e0b0a" stroke-width="5.7"/>
<line x1="3016.30" y1="826.80" x2="3016.30" y2="848.00" stroke="#0e0b0a" stroke-width="5.7"/>
<line x1="3004.40" y1="826.80" x2="3028.20" y2="826.80" stroke="#0e0b0a" stroke-width="5.7"/>
<line x1="3004.40" y1="848.00" x2="3028.20" y2="848.00" stroke="#0e0b0a" stroke-width="5.7"/>
<line x1="3151.64" y1="785.10" x2="3151.64" y2="860.60" stroke="#0e0b0a" stroke-width="5.7"/>
<line x1="3139.74" y1="785.10" x2="3163.54" y2="785.10" stroke="#0e0b0a" stroke-width="5.7"/>
<line x1="3139.74" y1="860.60" x2="3163.54" y2="860.60" stroke="#0e0b0a" stroke-width="5.7"/>
<line x1="3286.98" y1="600.00" x2="3286.98" y2="920.00" stroke="#0e0b0a" stroke-width="5.7"/>
<line x1="3275.08" y1="600.00" x2="3298.88" y2="600.00" stroke="#0e0b0a" stroke-width="5.7"/>
<line x1="3275.08" y1="920.00" x2="3298.88" y2="920.00" stroke="#0e0b0a" stroke-width="5.7"/>
<line x1="3422.32" y1="840.80" x2="3422.32" y2="848.00" stroke="#0e0b0a" stroke-width="5.7"/>
<line x1="3410.42" y1="840.80" x2="3434.22" y2="840.80" stroke="#0e0b0a" stroke-width="5.7"/>
<line x1="3410.42" y1="848.00" x2="3434.22" y2="848.00" stroke="#0e0b0a" stroke-width="5.7"/>
<line x1="3557.66" y1="837.00" x2="3557.66" y2="852.00" stroke="#0e0b0a" stroke-width="5.7"/>
<line x1="3545.76" y1="837.00" x2="3569.56" y2="837.00" stroke="#0e0b0a" stroke-width="5.7"/>
<line x1="3545.76" y1="852.00" x2="3569.56" y2="852.00" stroke="#0e0b0a" stroke-width="5.7"/>
<line x1="3693.00" y1="828.00" x2="3693.00" y2="846.80" stroke="#0e0b0a" stroke-width="5.7"/>
<line x1="3681.10" y1="828.00" x2="3704.90" y2="828.00" stroke="#0e0b0a" stroke-width="5.7"/>
<line x1="3681.10" y1="846.80" x2="3704.90" y2="846.80" stroke="#0e0b0a" stroke-width="5.7"/>
<line x1="3828.35" y1="808.40" x2="3828.35" y2="845.80" stroke="#0e0b0a" stroke-width="5.7"/>
<line x1="3816.45" y1="808.40" x2="3840.25" y2="808.40" stroke="#0e0b0a" stroke-width="5.7"/>
<line x1="3816.45" y1="845.80" x2="3840.25" y2="845.80" stroke="#0e0b0a" stroke-width="5.7"/>
<line x1="3963.69" y1="824.30" x2="3963.69" y2="846.80" stroke="#0e0b0a" stroke-width="5.7"/>
<line x1="3951.79" y1="824.30" x2="3975.59" y2="824.30" stroke="#0e0b0a" stroke-width="5.7"/>
<line x1="3951.79" y1="846.80" x2="3975.59" y2="846.80" stroke="#0e0b0a" stroke-width="5.7"/>
<line x1="4099.03" y1="816.60" x2="4099.03" y2="851.30" stroke="#0e0b0a" stroke-width="5.7"/>
<line x1="4087.13" y1="816.60" x2="4110.93" y2="816.60" stroke="#0e0b0a" stroke-width="5.7"/>
<line x1="4087.13" y1="851.30" x2="4110.93" y2="851.30" stroke="#0e0b0a" stroke-width="5.7"/>
<line x1="2542.6" y1="848.0" x2="4166.7" y2="848.0" stroke="#A8A8A8" stroke-width="5.5" stroke-dasharray="21.5 9.35"/>
</g>
<line x1="2610.27" y1="893.10" x2="2610.27" y2="887.60" stroke="#0e0b0a" stroke-width="4.2"/>
<line x1="2745.61" y1="893.10" x2="2745.61" y2="887.60" stroke="#0e0b0a" stroke-width="4.2"/>
<line x1="2880.95" y1="893.10" x2="2880.95" y2="887.60" stroke="#0e0b0a" stroke-width="4.2"/>
<line x1="3016.30" y1="893.10" x2="3016.30" y2="887.60" stroke="#0e0b0a" stroke-width="4.2"/>
<line x1="3151.64" y1="893.10" x2="3151.64" y2="887.60" stroke="#0e0b0a" stroke-width="4.2"/>
<line x1="3286.98" y1="893.10" x2="3286.98" y2="887.60" stroke="#0e0b0a" stroke-width="4.2"/>
<line x1="3422.32" y1="893.10" x2="3422.32" y2="887.60" stroke="#0e0b0a" stroke-width="4.2"/>
<line x1="3557.66" y1="893.10" x2="3557.66" y2="887.60" stroke="#0e0b0a" stroke-width="4.2"/>
<line x1="3693.00" y1="893.10" x2="3693.00" y2="887.60" stroke="#0e0b0a" stroke-width="4.2"/>
<line x1="3828.35" y1="893.10" x2="3828.35" y2="887.60" stroke="#0e0b0a" stroke-width="4.2"/>
<line x1="3963.69" y1="893.10" x2="3963.69" y2="887.60" stroke="#0e0b0a" stroke-width="4.2"/>
<line x1="4099.03" y1="893.10" x2="4099.03" y2="887.60" stroke="#0e0b0a" stroke-width="4.2"/>
<rect x="2542.6" y="624.20" width="1624.10" height="268.90" fill="none" stroke="#0e0b0a" stroke-width="4.4"/>
<line x1="2522.30" y1="668.80" x2="2542.6" y2="668.80" stroke="#0e0b0a" stroke-width="4.6"/>
<text transform="translate(2502.00,694.40)" font-size="70.4" text-anchor="end" fill="#0e0b0a" stroke="#0e0b0a" stroke-width="0.5">8</text>
<line x1="2522.30" y1="848.00" x2="2542.6" y2="848.00" stroke="#0e0b0a" stroke-width="4.6"/>
<text transform="translate(2502.00,873.60)" font-size="70.4" text-anchor="end" fill="#0e0b0a" stroke="#0e0b0a" stroke-width="0.5">0</text>
<text transform="translate(4149.00,710.10) scale(1,1.045)" font-size="81.3" text-anchor="end" fill="#0e0b0a" stroke="#0e0b0a" stroke-width="0.65">East China</text>
<g clip-path="url(#cp3)">
<rect x="2576.57" y="1115.80" width="67.4" height="12.70" fill="#4E5099"/>
<rect x="2711.91" y="1105.60" width="67.4" height="22.90" fill="#303873"/>
<rect x="2847.25" y="1067.10" width="67.4" height="61.40" fill="#B0C86A"/>
<rect x="2982.60" y="1005.70" width="67.4" height="122.80" fill="#899E52"/>
<rect x="3117.94" y="1114.60" width="67.4" height="13.90" fill="#607739"/>
<rect x="3253.28" y="1102.10" width="67.4" height="26.40" fill="#E3B752"/>
<rect x="3388.62" y="1115.80" width="67.4" height="12.70" fill="#B99A3D"/>
<rect x="3523.96" y="1113.30" width="67.4" height="15.20" fill="#876A33"/>
<rect x="3659.30" y="1094.50" width="67.4" height="34.00" fill="#BE6DAC"/>
<rect x="3794.65" y="1036.20" width="67.4" height="92.30" fill="#9C4E8D"/>
<rect x="3929.99" y="1091.00" width="67.4" height="37.50" fill="#763F70"/>
<rect x="4065.33" y="1121.90" width="67.4" height="6.60" fill="#6469B0"/>
<line x1="2610.27" y1="1104.40" x2="2610.27" y2="1127.00" stroke="#0e0b0a" stroke-width="5.7"/>
<line x1="2598.37" y1="1104.40" x2="2622.17" y2="1104.40" stroke="#0e0b0a" stroke-width="5.7"/>
<line x1="2598.37" y1="1127.00" x2="2622.17" y2="1127.00" stroke="#0e0b0a" stroke-width="5.7"/>
<line x1="2745.61" y1="1092.00" x2="2745.61" y2="1118.70" stroke="#0e0b0a" stroke-width="5.7"/>
<line x1="2733.71" y1="1092.00" x2="2757.51" y2="1092.00" stroke="#0e0b0a" stroke-width="5.7"/>
<line x1="2733.71" y1="1118.70" x2="2757.51" y2="1118.70" stroke="#0e0b0a" stroke-width="5.7"/>
<line x1="2880.95" y1="1020.00" x2="2880.95" y2="1113.30" stroke="#0e0b0a" stroke-width="5.7"/>
<line x1="2869.05" y1="1020.00" x2="2892.85" y2="1020.00" stroke="#0e0b0a" stroke-width="5.7"/>
<line x1="2869.05" y1="1113.30" x2="2892.85" y2="1113.30" stroke="#0e0b0a" stroke-width="5.7"/>
<line x1="3016.30" y1="898.70" x2="3016.30" y2="1112.00" stroke="#0e0b0a" stroke-width="5.7"/>
<line x1="3004.40" y1="898.70" x2="3028.20" y2="898.70" stroke="#0e0b0a" stroke-width="5.7"/>
<line x1="3004.40" y1="1112.00" x2="3028.20" y2="1112.00" stroke="#0e0b0a" stroke-width="5.7"/>
<line x1="3151.64" y1="1109.80" x2="3151.64" y2="1118.40" stroke="#0e0b0a" stroke-width="5.7"/>
<line x1="3139.74" y1="1109.80" x2="3163.54" y2="1109.80" stroke="#0e0b0a" stroke-width="5.7"/>
<line x1="3139.74" y1="1118.40" x2="3163.54" y2="1118.40" stroke="#0e0b0a" stroke-width="5.7"/>
<line x1="3286.98" y1="1060.40" x2="3286.98" y2="1142.90" stroke="#0e0b0a" stroke-width="5.7"/>
<line x1="3275.08" y1="1060.40" x2="3298.88" y2="1060.40" stroke="#0e0b0a" stroke-width="5.7"/>
<line x1="3275.08" y1="1142.90" x2="3298.88" y2="1142.90" stroke="#0e0b0a" stroke-width="5.7"/>
<line x1="3422.32" y1="1110.40" x2="3422.32" y2="1121.60" stroke="#0e0b0a" stroke-width="5.7"/>
<line x1="3410.42" y1="1110.40" x2="3434.22" y2="1110.40" stroke="#0e0b0a" stroke-width="5.7"/>
<line x1="3410.42" y1="1121.60" x2="3434.22" y2="1121.60" stroke="#0e0b0a" stroke-width="5.7"/>
<line x1="3557.66" y1="1107.20" x2="3557.66" y2="1117.70" stroke="#0e0b0a" stroke-width="5.7"/>
<line x1="3545.76" y1="1107.20" x2="3569.56" y2="1107.20" stroke="#0e0b0a" stroke-width="5.7"/>
<line x1="3545.76" y1="1117.70" x2="3569.56" y2="1117.70" stroke="#0e0b0a" stroke-width="5.7"/>
<line x1="3693.00" y1="1071.30" x2="3693.00" y2="1114.20" stroke="#0e0b0a" stroke-width="5.7"/>
<line x1="3681.10" y1="1071.30" x2="3704.90" y2="1071.30" stroke="#0e0b0a" stroke-width="5.7"/>
<line x1="3681.10" y1="1114.20" x2="3704.90" y2="1114.20" stroke="#0e0b0a" stroke-width="5.7"/>
<line x1="3828.35" y1="969.40" x2="3828.35" y2="1102.50" stroke="#0e0b0a" stroke-width="5.7"/>
<line x1="3816.45" y1="969.40" x2="3840.25" y2="969.40" stroke="#0e0b0a" stroke-width="5.7"/>
<line x1="3816.45" y1="1102.50" x2="3840.25" y2="1102.50" stroke="#0e0b0a" stroke-width="5.7"/>
<line x1="3963.69" y1="1050.60" x2="3963.69" y2="1131.10" stroke="#0e0b0a" stroke-width="5.7"/>
<line x1="3951.79" y1="1050.60" x2="3975.59" y2="1050.60" stroke="#0e0b0a" stroke-width="5.7"/>
<line x1="3951.79" y1="1131.10" x2="3975.59" y2="1131.10" stroke="#0e0b0a" stroke-width="5.7"/>
<line x1="4099.03" y1="1115.80" x2="4099.03" y2="1127.50" stroke="#0e0b0a" stroke-width="5.7"/>
<line x1="4087.13" y1="1115.80" x2="4110.93" y2="1115.80" stroke="#0e0b0a" stroke-width="5.7"/>
<line x1="4087.13" y1="1127.50" x2="4110.93" y2="1127.50" stroke="#0e0b0a" stroke-width="5.7"/>
<line x1="2542.6" y1="1128.5" x2="4166.7" y2="1128.5" stroke="#A8A8A8" stroke-width="5.5" stroke-dasharray="21.5 9.35"/>
</g>
<line x1="2610.27" y1="1162.00" x2="2610.27" y2="1156.50" stroke="#0e0b0a" stroke-width="4.2"/>
<line x1="2745.61" y1="1162.00" x2="2745.61" y2="1156.50" stroke="#0e0b0a" stroke-width="4.2"/>
<line x1="2880.95" y1="1162.00" x2="2880.95" y2="1156.50" stroke="#0e0b0a" stroke-width="4.2"/>
<line x1="3016.30" y1="1162.00" x2="3016.30" y2="1156.50" stroke="#0e0b0a" stroke-width="4.2"/>
<line x1="3151.64" y1="1162.00" x2="3151.64" y2="1156.50" stroke="#0e0b0a" stroke-width="4.2"/>
<line x1="3286.98" y1="1162.00" x2="3286.98" y2="1156.50" stroke="#0e0b0a" stroke-width="4.2"/>
<line x1="3422.32" y1="1162.00" x2="3422.32" y2="1156.50" stroke="#0e0b0a" stroke-width="4.2"/>
<line x1="3557.66" y1="1162.00" x2="3557.66" y2="1156.50" stroke="#0e0b0a" stroke-width="4.2"/>
<line x1="3693.00" y1="1162.00" x2="3693.00" y2="1156.50" stroke="#0e0b0a" stroke-width="4.2"/>
<line x1="3828.35" y1="1162.00" x2="3828.35" y2="1156.50" stroke="#0e0b0a" stroke-width="4.2"/>
<line x1="3963.69" y1="1162.00" x2="3963.69" y2="1156.50" stroke="#0e0b0a" stroke-width="4.2"/>
<line x1="4099.03" y1="1162.00" x2="4099.03" y2="1156.50" stroke="#0e0b0a" stroke-width="4.2"/>
<rect x="2542.6" y="893.10" width="1624.10" height="268.90" fill="none" stroke="#0e0b0a" stroke-width="4.4"/>
<line x1="2522.30" y1="960.50" x2="2542.6" y2="960.50" stroke="#0e0b0a" stroke-width="4.6"/>
<text transform="translate(2502.00,986.10)" font-size="70.4" text-anchor="end" fill="#0e0b0a" stroke="#0e0b0a" stroke-width="0.5">0.5</text>
<line x1="2522.30" y1="1128.50" x2="2542.6" y2="1128.50" stroke="#0e0b0a" stroke-width="4.6"/>
<text transform="translate(2502.00,1154.10)" font-size="70.4" text-anchor="end" fill="#0e0b0a" stroke="#0e0b0a" stroke-width="0.5">0</text>
<text transform="translate(4149.00,975.70) scale(1,1.045)" font-size="81.3" text-anchor="end" fill="#0e0b0a" stroke="#0e0b0a" stroke-width="0.65">Northwest China</text>
<g clip-path="url(#cp4)">
<rect x="2576.57" y="1292.20" width="67.4" height="93.90" fill="#4E5099"/>
<rect x="2711.91" y="1305.20" width="67.4" height="80.90" fill="#303873"/>
<rect x="2847.25" y="1322.10" width="67.4" height="64.00" fill="#B0C86A"/>
<rect x="2982.60" y="1319.30" width="67.4" height="66.80" fill="#899E52"/>
<rect x="3117.94" y="1365.40" width="67.4" height="20.70" fill="#607739"/>
<rect x="3253.28" y="1374.60" width="67.4" height="11.50" fill="#E3B752"/>
<rect x="3388.62" y="1375.00" width="67.4" height="11.10" fill="#B99A3D"/>
<rect x="3523.96" y="1376.60" width="67.4" height="9.50" fill="#876A33"/>
<rect x="3659.30" y="1372.40" width="67.4" height="13.70" fill="#BE6DAC"/>
<rect x="3794.65" y="1342.20" width="67.4" height="43.90" fill="#9C4E8D"/>
<rect x="3929.99" y="1344.40" width="67.4" height="41.70" fill="#763F70"/>
<rect x="4065.33" y="1313.50" width="67.4" height="72.60" fill="#6469B0"/>
<line x1="2610.27" y1="1187.80" x2="2610.27" y2="1396.00" stroke="#0e0b0a" stroke-width="5.7"/>
<line x1="2598.37" y1="1187.80" x2="2622.17" y2="1187.80" stroke="#0e0b0a" stroke-width="5.7"/>
<line x1="2598.37" y1="1396.00" x2="2622.17" y2="1396.00" stroke="#0e0b0a" stroke-width="5.7"/>
<line x1="2745.61" y1="1252.40" x2="2745.61" y2="1356.50" stroke="#0e0b0a" stroke-width="5.7"/>
<line x1="2733.71" y1="1252.40" x2="2757.51" y2="1252.40" stroke="#0e0b0a" stroke-width="5.7"/>
<line x1="2733.71" y1="1356.50" x2="2757.51" y2="1356.50" stroke="#0e0b0a" stroke-width="5.7"/>
<line x1="2880.95" y1="1278.50" x2="2880.95" y2="1364.10" stroke="#0e0b0a" stroke-width="5.7"/>
<line x1="2869.05" y1="1278.50" x2="2892.85" y2="1278.50" stroke="#0e0b0a" stroke-width="5.7"/>
<line x1="2869.05" y1="1364.10" x2="2892.85" y2="1364.10" stroke="#0e0b0a" stroke-width="5.7"/>
<line x1="3016.30" y1="1252.40" x2="3016.30" y2="1384.80" stroke="#0e0b0a" stroke-width="5.7"/>
<line x1="3004.40" y1="1252.40" x2="3028.20" y2="1252.40" stroke="#0e0b0a" stroke-width="5.7"/>
<line x1="3004.40" y1="1384.80" x2="3028.20" y2="1384.80" stroke="#0e0b0a" stroke-width="5.7"/>
<line x1="3151.64" y1="1352.40" x2="3151.64" y2="1377.50" stroke="#0e0b0a" stroke-width="5.7"/>
<line x1="3139.74" y1="1352.40" x2="3163.54" y2="1352.40" stroke="#0e0b0a" stroke-width="5.7"/>
<line x1="3139.74" y1="1377.50" x2="3163.54" y2="1377.50" stroke="#0e0b0a" stroke-width="5.7"/>
<line x1="3286.98" y1="1370.20" x2="3286.98" y2="1378.80" stroke="#0e0b0a" stroke-width="5.7"/>
<line x1="3275.08" y1="1370.20" x2="3298.88" y2="1370.20" stroke="#0e0b0a" stroke-width="5.7"/>
<line x1="3275.08" y1="1378.80" x2="3298.88" y2="1378.80" stroke="#0e0b0a" stroke-width="5.7"/>
<line x1="3422.32" y1="1370.50" x2="3422.32" y2="1378.80" stroke="#0e0b0a" stroke-width="5.7"/>
<line x1="3410.42" y1="1370.50" x2="3434.22" y2="1370.50" stroke="#0e0b0a" stroke-width="5.7"/>
<line x1="3410.42" y1="1378.80" x2="3434.22" y2="1378.80" stroke="#0e0b0a" stroke-width="5.7"/>
<line x1="3557.66" y1="1371.50" x2="3557.66" y2="1381.60" stroke="#0e0b0a" stroke-width="5.7"/>
<line x1="3545.76" y1="1371.50" x2="3569.56" y2="1371.50" stroke="#0e0b0a" stroke-width="5.7"/>
<line x1="3545.76" y1="1381.60" x2="3569.56" y2="1381.60" stroke="#0e0b0a" stroke-width="5.7"/>
<line x1="3693.00" y1="1364.10" x2="3693.00" y2="1379.40" stroke="#0e0b0a" stroke-width="5.7"/>
<line x1="3681.10" y1="1364.10" x2="3704.90" y2="1364.10" stroke="#0e0b0a" stroke-width="5.7"/>
<line x1="3681.10" y1="1379.40" x2="3704.90" y2="1379.40" stroke="#0e0b0a" stroke-width="5.7"/>
<line x1="3828.35" y1="1320.20" x2="3828.35" y2="1364.10" stroke="#0e0b0a" stroke-width="5.7"/>
<line x1="3816.45" y1="1320.20" x2="3840.25" y2="1320.20" stroke="#0e0b0a" stroke-width="5.7"/>
<line x1="3816.45" y1="1364.10" x2="3840.25" y2="1364.10" stroke="#0e0b0a" stroke-width="5.7"/>
<line x1="3963.69" y1="1327.20" x2="3963.69" y2="1360.30" stroke="#0e0b0a" stroke-width="5.7"/>
<line x1="3951.79" y1="1327.20" x2="3975.59" y2="1327.20" stroke="#0e0b0a" stroke-width="5.7"/>
<line x1="3951.79" y1="1360.30" x2="3975.59" y2="1360.30" stroke="#0e0b0a" stroke-width="5.7"/>
<line x1="4099.03" y1="1255.90" x2="4099.03" y2="1370.80" stroke="#0e0b0a" stroke-width="5.7"/>
<line x1="4087.13" y1="1255.90" x2="4110.93" y2="1255.90" stroke="#0e0b0a" stroke-width="5.7"/>
<line x1="4087.13" y1="1370.80" x2="4110.93" y2="1370.80" stroke="#0e0b0a" stroke-width="5.7"/>
<line x1="2542.6" y1="1386.1" x2="4166.7" y2="1386.1" stroke="#A8A8A8" stroke-width="5.5" stroke-dasharray="21.5 9.35"/>
</g>
<line x1="2610.27" y1="1430.90" x2="2610.27" y2="1425.40" stroke="#0e0b0a" stroke-width="4.2"/>
<line x1="2745.61" y1="1430.90" x2="2745.61" y2="1425.40" stroke="#0e0b0a" stroke-width="4.2"/>
<line x1="2880.95" y1="1430.90" x2="2880.95" y2="1425.40" stroke="#0e0b0a" stroke-width="4.2"/>
<line x1="3016.30" y1="1430.90" x2="3016.30" y2="1425.40" stroke="#0e0b0a" stroke-width="4.2"/>
<line x1="3151.64" y1="1430.90" x2="3151.64" y2="1425.40" stroke="#0e0b0a" stroke-width="4.2"/>
<line x1="3286.98" y1="1430.90" x2="3286.98" y2="1425.40" stroke="#0e0b0a" stroke-width="4.2"/>
<line x1="3422.32" y1="1430.90" x2="3422.32" y2="1425.40" stroke="#0e0b0a" stroke-width="4.2"/>
<line x1="3557.66" y1="1430.90" x2="3557.66" y2="1425.40" stroke="#0e0b0a" stroke-width="4.2"/>
<line x1="3693.00" y1="1430.90" x2="3693.00" y2="1425.40" stroke="#0e0b0a" stroke-width="4.2"/>
<line x1="3828.35" y1="1430.90" x2="3828.35" y2="1425.40" stroke="#0e0b0a" stroke-width="4.2"/>
<line x1="3963.69" y1="1430.90" x2="3963.69" y2="1425.40" stroke="#0e0b0a" stroke-width="4.2"/>
<line x1="4099.03" y1="1430.90" x2="4099.03" y2="1425.40" stroke="#0e0b0a" stroke-width="4.2"/>
<rect x="2542.6" y="1162.00" width="1624.10" height="268.90" fill="none" stroke="#0e0b0a" stroke-width="4.4"/>
<line x1="2522.30" y1="1206.90" x2="2542.6" y2="1206.90" stroke="#0e0b0a" stroke-width="4.6"/>
<text transform="translate(2502.00,1232.50)" font-size="70.4" text-anchor="end" fill="#0e0b0a" stroke="#0e0b0a" stroke-width="0.5">2</text>
<line x1="2522.30" y1="1386.10" x2="2542.6" y2="1386.10" stroke="#0e0b0a" stroke-width="4.6"/>
<text transform="translate(2502.00,1411.70)" font-size="70.4" text-anchor="end" fill="#0e0b0a" stroke="#0e0b0a" stroke-width="0.5">0</text>
<text transform="translate(4149.00,1241.30) scale(1,1.045)" font-size="81.3" text-anchor="end" fill="#0e0b0a" stroke="#0e0b0a" stroke-width="0.65">South China</text>
<g clip-path="url(#cp5)">
<rect x="2576.57" y="1563.70" width="67.4" height="82.30" fill="#4E5099"/>
<rect x="2711.91" y="1519.50" width="67.4" height="126.50" fill="#303873"/>
<rect x="2847.25" y="1520.50" width="67.4" height="125.50" fill="#B0C86A"/>
<rect x="2982.60" y="1537.60" width="67.4" height="108.40" fill="#899E52"/>
<rect x="3117.94" y="1581.30" width="67.4" height="64.70" fill="#607739"/>
<rect x="3253.28" y="1635.00" width="67.4" height="11.00" fill="#E3B752"/>
<rect x="3388.62" y="1640.50" width="67.4" height="5.50" fill="#B99A3D"/>
<rect x="3523.96" y="1636.60" width="67.4" height="9.40" fill="#876A33"/>
<rect x="3659.30" y="1641.10" width="67.4" height="4.90" fill="#BE6DAC"/>
<rect x="3794.65" y="1637.90" width="67.4" height="8.10" fill="#9C4E8D"/>
<rect x="3929.99" y="1634.70" width="67.4" height="11.30" fill="#763F70"/>
<rect x="4065.33" y="1606.40" width="67.4" height="39.60" fill="#6469B0"/>
<line x1="2610.27" y1="1521.40" x2="2610.27" y2="1606.10" stroke="#0e0b0a" stroke-width="5.7"/>
<line x1="2598.37" y1="1521.40" x2="2622.17" y2="1521.40" stroke="#0e0b0a" stroke-width="5.7"/>
<line x1="2598.37" y1="1606.10" x2="2622.17" y2="1606.10" stroke="#0e0b0a" stroke-width="5.7"/>
<line x1="2745.61" y1="1450.70" x2="2745.61" y2="1587.90" stroke="#0e0b0a" stroke-width="5.7"/>
<line x1="2733.71" y1="1450.70" x2="2757.51" y2="1450.70" stroke="#0e0b0a" stroke-width="5.7"/>
<line x1="2733.71" y1="1587.90" x2="2757.51" y2="1587.90" stroke="#0e0b0a" stroke-width="5.7"/>
<line x1="2880.95" y1="1463.50" x2="2880.95" y2="1576.20" stroke="#0e0b0a" stroke-width="5.7"/>
<line x1="2869.05" y1="1463.50" x2="2892.85" y2="1463.50" stroke="#0e0b0a" stroke-width="5.7"/>
<line x1="2869.05" y1="1576.20" x2="2892.85" y2="1576.20" stroke="#0e0b0a" stroke-width="5.7"/>
<line x1="3016.30" y1="1465.70" x2="3016.30" y2="1610.50" stroke="#0e0b0a" stroke-width="5.7"/>
<line x1="3004.40" y1="1465.70" x2="3028.20" y2="1465.70" stroke="#0e0b0a" stroke-width="5.7"/>
<line x1="3004.40" y1="1610.50" x2="3028.20" y2="1610.50" stroke="#0e0b0a" stroke-width="5.7"/>
<line x1="3151.64" y1="1530.60" x2="3151.64" y2="1631.20" stroke="#0e0b0a" stroke-width="5.7"/>
<line x1="3139.74" y1="1530.60" x2="3163.54" y2="1530.60" stroke="#0e0b0a" stroke-width="5.7"/>
<line x1="3139.74" y1="1631.20" x2="3163.54" y2="1631.20" stroke="#0e0b0a" stroke-width="5.7"/>
<line x1="3286.98" y1="1628.00" x2="3286.98" y2="1640.80" stroke="#0e0b0a" stroke-width="5.7"/>
<line x1="3275.08" y1="1628.00" x2="3298.88" y2="1628.00" stroke="#0e0b0a" stroke-width="5.7"/>
<line x1="3275.08" y1="1640.80" x2="3298.88" y2="1640.80" stroke="#0e0b0a" stroke-width="5.7"/>
<line x1="3422.32" y1="1634.70" x2="3422.32" y2="1643.60" stroke="#0e0b0a" stroke-width="5.7"/>
<line x1="3410.42" y1="1634.70" x2="3434.22" y2="1634.70" stroke="#0e0b0a" stroke-width="5.7"/>
<line x1="3410.42" y1="1643.60" x2="3434.22" y2="1643.60" stroke="#0e0b0a" stroke-width="5.7"/>
<line x1="3557.66" y1="1625.50" x2="3557.66" y2="1647.80" stroke="#0e0b0a" stroke-width="5.7"/>
<line x1="3545.76" y1="1625.50" x2="3569.56" y2="1625.50" stroke="#0e0b0a" stroke-width="5.7"/>
<line x1="3545.76" y1="1647.80" x2="3569.56" y2="1647.80" stroke="#0e0b0a" stroke-width="5.7"/>
<line x1="3693.00" y1="1636.00" x2="3693.00" y2="1643.60" stroke="#0e0b0a" stroke-width="5.7"/>
<line x1="3681.10" y1="1636.00" x2="3704.90" y2="1636.00" stroke="#0e0b0a" stroke-width="5.7"/>
<line x1="3681.10" y1="1643.60" x2="3704.90" y2="1643.60" stroke="#0e0b0a" stroke-width="5.7"/>
<line x1="3828.35" y1="1632.50" x2="3828.35" y2="1643.00" stroke="#0e0b0a" stroke-width="5.7"/>
<line x1="3816.45" y1="1632.50" x2="3840.25" y2="1632.50" stroke="#0e0b0a" stroke-width="5.7"/>
<line x1="3816.45" y1="1643.00" x2="3840.25" y2="1643.00" stroke="#0e0b0a" stroke-width="5.7"/>
<line x1="3963.69" y1="1630.30" x2="3963.69" y2="1639.20" stroke="#0e0b0a" stroke-width="5.7"/>
<line x1="3951.79" y1="1630.30" x2="3975.59" y2="1630.30" stroke="#0e0b0a" stroke-width="5.7"/>
<line x1="3951.79" y1="1639.20" x2="3975.59" y2="1639.20" stroke="#0e0b0a" stroke-width="5.7"/>
<line x1="4099.03" y1="1558.30" x2="4099.03" y2="1654.50" stroke="#0e0b0a" stroke-width="5.7"/>
<line x1="4087.13" y1="1558.30" x2="4110.93" y2="1558.30" stroke="#0e0b0a" stroke-width="5.7"/>
<line x1="4087.13" y1="1654.50" x2="4110.93" y2="1654.50" stroke="#0e0b0a" stroke-width="5.7"/>
<line x1="2542.6" y1="1646.0" x2="4166.7" y2="1646.0" stroke="#A8A8A8" stroke-width="5.5" stroke-dasharray="21.5 9.35"/>
</g>
<line x1="2610.27" y1="1699.80" x2="2610.27" y2="1694.30" stroke="#0e0b0a" stroke-width="4.2"/>
<line x1="2745.61" y1="1699.80" x2="2745.61" y2="1694.30" stroke="#0e0b0a" stroke-width="4.2"/>
<line x1="2880.95" y1="1699.80" x2="2880.95" y2="1694.30" stroke="#0e0b0a" stroke-width="4.2"/>
<line x1="3016.30" y1="1699.80" x2="3016.30" y2="1694.30" stroke="#0e0b0a" stroke-width="4.2"/>
<line x1="3151.64" y1="1699.80" x2="3151.64" y2="1694.30" stroke="#0e0b0a" stroke-width="4.2"/>
<line x1="3286.98" y1="1699.80" x2="3286.98" y2="1694.30" stroke="#0e0b0a" stroke-width="4.2"/>
<line x1="3422.32" y1="1699.80" x2="3422.32" y2="1694.30" stroke="#0e0b0a" stroke-width="4.2"/>
<line x1="3557.66" y1="1699.80" x2="3557.66" y2="1694.30" stroke="#0e0b0a" stroke-width="4.2"/>
<line x1="3693.00" y1="1699.80" x2="3693.00" y2="1694.30" stroke="#0e0b0a" stroke-width="4.2"/>
<line x1="3828.35" y1="1699.80" x2="3828.35" y2="1694.30" stroke="#0e0b0a" stroke-width="4.2"/>
<line x1="3963.69" y1="1699.80" x2="3963.69" y2="1694.30" stroke="#0e0b0a" stroke-width="4.2"/>
<line x1="4099.03" y1="1699.80" x2="4099.03" y2="1694.30" stroke="#0e0b0a" stroke-width="4.2"/>
<rect x="2542.6" y="1430.90" width="1624.10" height="268.90" fill="none" stroke="#0e0b0a" stroke-width="4.4"/>
<line x1="2522.30" y1="1484.70" x2="2542.6" y2="1484.70" stroke="#0e0b0a" stroke-width="4.6"/>
<text transform="translate(2502.00,1510.30)" font-size="70.4" text-anchor="end" fill="#0e0b0a" stroke="#0e0b0a" stroke-width="0.5">3</text>
<line x1="2522.30" y1="1646.00" x2="2542.6" y2="1646.00" stroke="#0e0b0a" stroke-width="4.6"/>
<text transform="translate(2502.00,1671.60)" font-size="70.4" text-anchor="end" fill="#0e0b0a" stroke="#0e0b0a" stroke-width="0.5">0</text>
<text transform="translate(4149.00,1518.60) scale(1,1.045)" font-size="81.3" text-anchor="end" fill="#0e0b0a" stroke="#0e0b0a" stroke-width="0.65">Southwest China</text>
<text transform="translate(2610.27,1770.40) scale(1,1.03)" font-size="70.4" text-anchor="middle" fill="#0e0b0a" stroke="#0e0b0a" stroke-width="0.5">Jan</text>
<text transform="translate(2745.61,1770.40) scale(1,1.03)" font-size="70.4" text-anchor="middle" fill="#0e0b0a" stroke="#0e0b0a" stroke-width="0.5">Feb</text>
<text transform="translate(2880.95,1770.40) scale(1,1.03)" font-size="70.4" text-anchor="middle" fill="#0e0b0a" stroke="#0e0b0a" stroke-width="0.5">Mar</text>
<text transform="translate(3016.30,1770.40) scale(1,1.03)" font-size="70.4" text-anchor="middle" fill="#0e0b0a" stroke="#0e0b0a" stroke-width="0.5">Apr</text>
<text transform="translate(3151.64,1770.40) scale(1,1.03)" font-size="70.4" text-anchor="middle" fill="#0e0b0a" stroke="#0e0b0a" stroke-width="0.5">May</text>
<text transform="translate(3286.98,1770.40) scale(1,1.03)" font-size="70.4" text-anchor="middle" fill="#0e0b0a" stroke="#0e0b0a" stroke-width="0.5">Jun</text>
<text transform="translate(3422.32,1770.40) scale(1,1.03)" font-size="70.4" text-anchor="middle" fill="#0e0b0a" stroke="#0e0b0a" stroke-width="0.5">Jul</text>
<text transform="translate(3557.66,1770.40) scale(1,1.03)" font-size="70.4" text-anchor="middle" fill="#0e0b0a" stroke="#0e0b0a" stroke-width="0.5">Aug</text>
<text transform="translate(3693.00,1770.40) scale(1,1.03)" font-size="70.4" text-anchor="middle" fill="#0e0b0a" stroke="#0e0b0a" stroke-width="0.5">Sep</text>
<text transform="translate(3828.35,1770.40) scale(1,1.03)" font-size="70.4" text-anchor="middle" fill="#0e0b0a" stroke="#0e0b0a" stroke-width="0.5">Oct</text>
<text transform="translate(3963.69,1770.40) scale(1,1.03)" font-size="70.4" text-anchor="middle" fill="#0e0b0a" stroke="#0e0b0a" stroke-width="0.5">Nov</text>
<text transform="translate(4099.03,1770.40) scale(1,1.03)" font-size="70.4" text-anchor="middle" fill="#0e0b0a" stroke="#0e0b0a" stroke-width="0.5">Dec</text>
<text transform="translate(2280.70,134.00) scale(1,1.02)" font-size="103.7" text-anchor="start" fill="#0e0b0a" stroke="#0e0b0a" stroke-width="0.65">(b)</text>
<text transform="translate(2381.2,1380.6) rotate(-90) scale(1,1.035)" font-size="81.3" fill="#0e0b0a" stroke="#0e0b0a" stroke-width="0.65">Emission amount (Tg yr<tspan font-size="48" dy="-27.4">-1</tspan><tspan dy="27.4">)</tspan></text>
</svg></body></html>
